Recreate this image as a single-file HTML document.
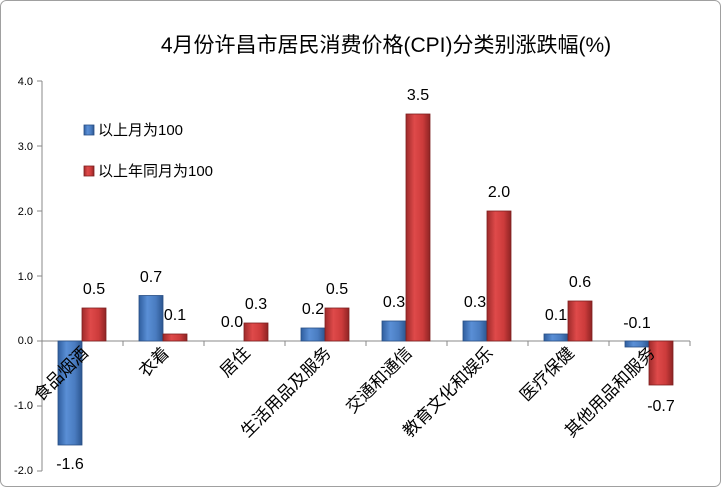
<!DOCTYPE html>
<html><head><meta charset="utf-8"><style>
html,body{margin:0;padding:0;background:#fff;}
svg{display:block;font-family:"Liberation Sans","Noto Sans CJK SC",sans-serif;}
</style></head><body>
<svg width="721" height="487" viewBox="0 0 721 487">
<defs>
<linearGradient id="gb" x1="0" x2="1" y1="0" y2="0">
<stop offset="0" stop-color="#2f5e9e"/><stop offset="0.35" stop-color="#5a8fd6"/><stop offset="0.7" stop-color="#4a7cc0"/><stop offset="1" stop-color="#2c5690"/></linearGradient>
<linearGradient id="gr" x1="0" x2="1" y1="0" y2="0">
<stop offset="0" stop-color="#9e2a2a"/><stop offset="0.35" stop-color="#df4a4a"/><stop offset="0.7" stop-color="#cc3b3b"/><stop offset="1" stop-color="#8e2424"/></linearGradient>
</defs>
<rect x="0.5" y="0.5" width="720" height="486" rx="6" fill="#fff" stroke="#a0a0a0"/>
<text x="386" y="52" font-size="21" text-anchor="middle" fill="#000">4月份许昌市居民消费价格(CPI)分类别涨跌幅(%)</text>
<g font-size="11" fill="#000" text-anchor="end">
<text x="33" y="85">4.0</text><text x="33" y="150">3.0</text><text x="33" y="215">2.0</text>
<text x="33" y="280">1.0</text><text x="33" y="344">0.0</text><text x="33" y="409">-1.0</text><text x="33" y="474">-2.0</text>
</g>
<g stroke="#888" stroke-width="1">
<line x1="42" y1="81" x2="42" y2="471"/>
<line x1="37" y1="81" x2="42" y2="81"/><line x1="37" y1="146" x2="42" y2="146"/><line x1="37" y1="211" x2="42" y2="211"/>
<line x1="37" y1="276" x2="42" y2="276"/><line x1="37" y1="341" x2="42" y2="341"/><line x1="37" y1="406" x2="42" y2="406"/><line x1="37" y1="471" x2="42" y2="471"/>
<line x1="42" y1="341" x2="690" y2="341"/>
<line x1="123" y1="341" x2="123" y2="346"/><line x1="204" y1="341" x2="204" y2="346"/><line x1="285" y1="341" x2="285" y2="346"/>
<line x1="366" y1="341" x2="366" y2="346"/><line x1="447" y1="341" x2="447" y2="346"/><line x1="528" y1="341" x2="528" y2="346"/>
<line x1="609" y1="341" x2="609" y2="346"/><line x1="690" y1="341" x2="690" y2="346"/>
</g>
<g stroke-width="0.8">
<rect x="58" y="341" width="24" height="104" fill="url(#gb)" stroke="#284f85"/>
<rect x="139" y="295.5" width="24" height="45.5" fill="url(#gb)" stroke="#284f85"/>
<rect x="301" y="328" width="24" height="13" fill="url(#gb)" stroke="#284f85"/>
<rect x="382" y="321" width="24" height="20" fill="url(#gb)" stroke="#284f85"/>
<rect x="463" y="321" width="24" height="20" fill="url(#gb)" stroke="#284f85"/>
<rect x="544" y="334" width="24" height="7" fill="url(#gb)" stroke="#284f85"/>
<rect x="625" y="341" width="24" height="6" fill="url(#gb)" stroke="#284f85"/>
<rect x="82" y="308" width="24" height="33" fill="url(#gr)" stroke="#7e2020"/>
<rect x="163" y="334" width="24" height="7" fill="url(#gr)" stroke="#7e2020"/>
<rect x="244" y="323" width="24" height="18" fill="url(#gr)" stroke="#7e2020"/>
<rect x="325" y="308" width="24" height="33" fill="url(#gr)" stroke="#7e2020"/>
<rect x="406" y="114" width="24" height="227" fill="url(#gr)" stroke="#7e2020"/>
<rect x="487" y="211" width="24" height="130" fill="url(#gr)" stroke="#7e2020"/>
<rect x="568" y="301" width="24" height="40" fill="url(#gr)" stroke="#7e2020"/>
<rect x="649" y="341" width="24" height="44" fill="url(#gr)" stroke="#7e2020"/>
</g>
<g font-size="16" fill="#000" text-anchor="middle">
<text x="70" y="469">-1.6</text><text x="94" y="294">0.5</text>
<text x="151" y="282">0.7</text><text x="175" y="320">0.1</text>
<text x="232" y="327">0.0</text><text x="256" y="309">0.3</text>
<text x="313" y="314">0.2</text><text x="337" y="294">0.5</text>
<text x="394" y="307">0.3</text><text x="418" y="100">3.5</text>
<text x="475" y="307">0.3</text><text x="499" y="197">2.0</text>
<text x="556" y="320">0.1</text><text x="580" y="287">0.6</text>
<text x="637" y="328">-0.1</text><text x="661" y="411">-0.7</text>
</g>
<g font-size="17" fill="#000" text-anchor="end">
<text transform="translate(89,354) rotate(-45)">食品烟酒</text>
<text transform="translate(170,354) rotate(-45)">衣着</text>
<text transform="translate(251,354) rotate(-45)">居住</text>
<text transform="translate(332,354) rotate(-45)">生活用品及服务</text>
<text transform="translate(413,354) rotate(-45)">交通和通信</text>
<text transform="translate(494,354) rotate(-45)">教育文化和娱乐</text>
<text transform="translate(575,354) rotate(-45)">医疗保健</text>
<text transform="translate(656,354) rotate(-45)">其他用品和服务</text>
</g>
<rect x="84" y="125" width="10" height="10" fill="url(#gb)" stroke="#284f85" stroke-width="0.8"/>
<text x="98" y="135" font-size="15" fill="#000">以上月为100</text>
<rect x="84" y="166" width="10" height="10" fill="url(#gr)" stroke="#7e2020" stroke-width="0.8"/>
<text x="98" y="176" font-size="15" fill="#000">以上年同月为100</text>
</svg>
</body></html>
